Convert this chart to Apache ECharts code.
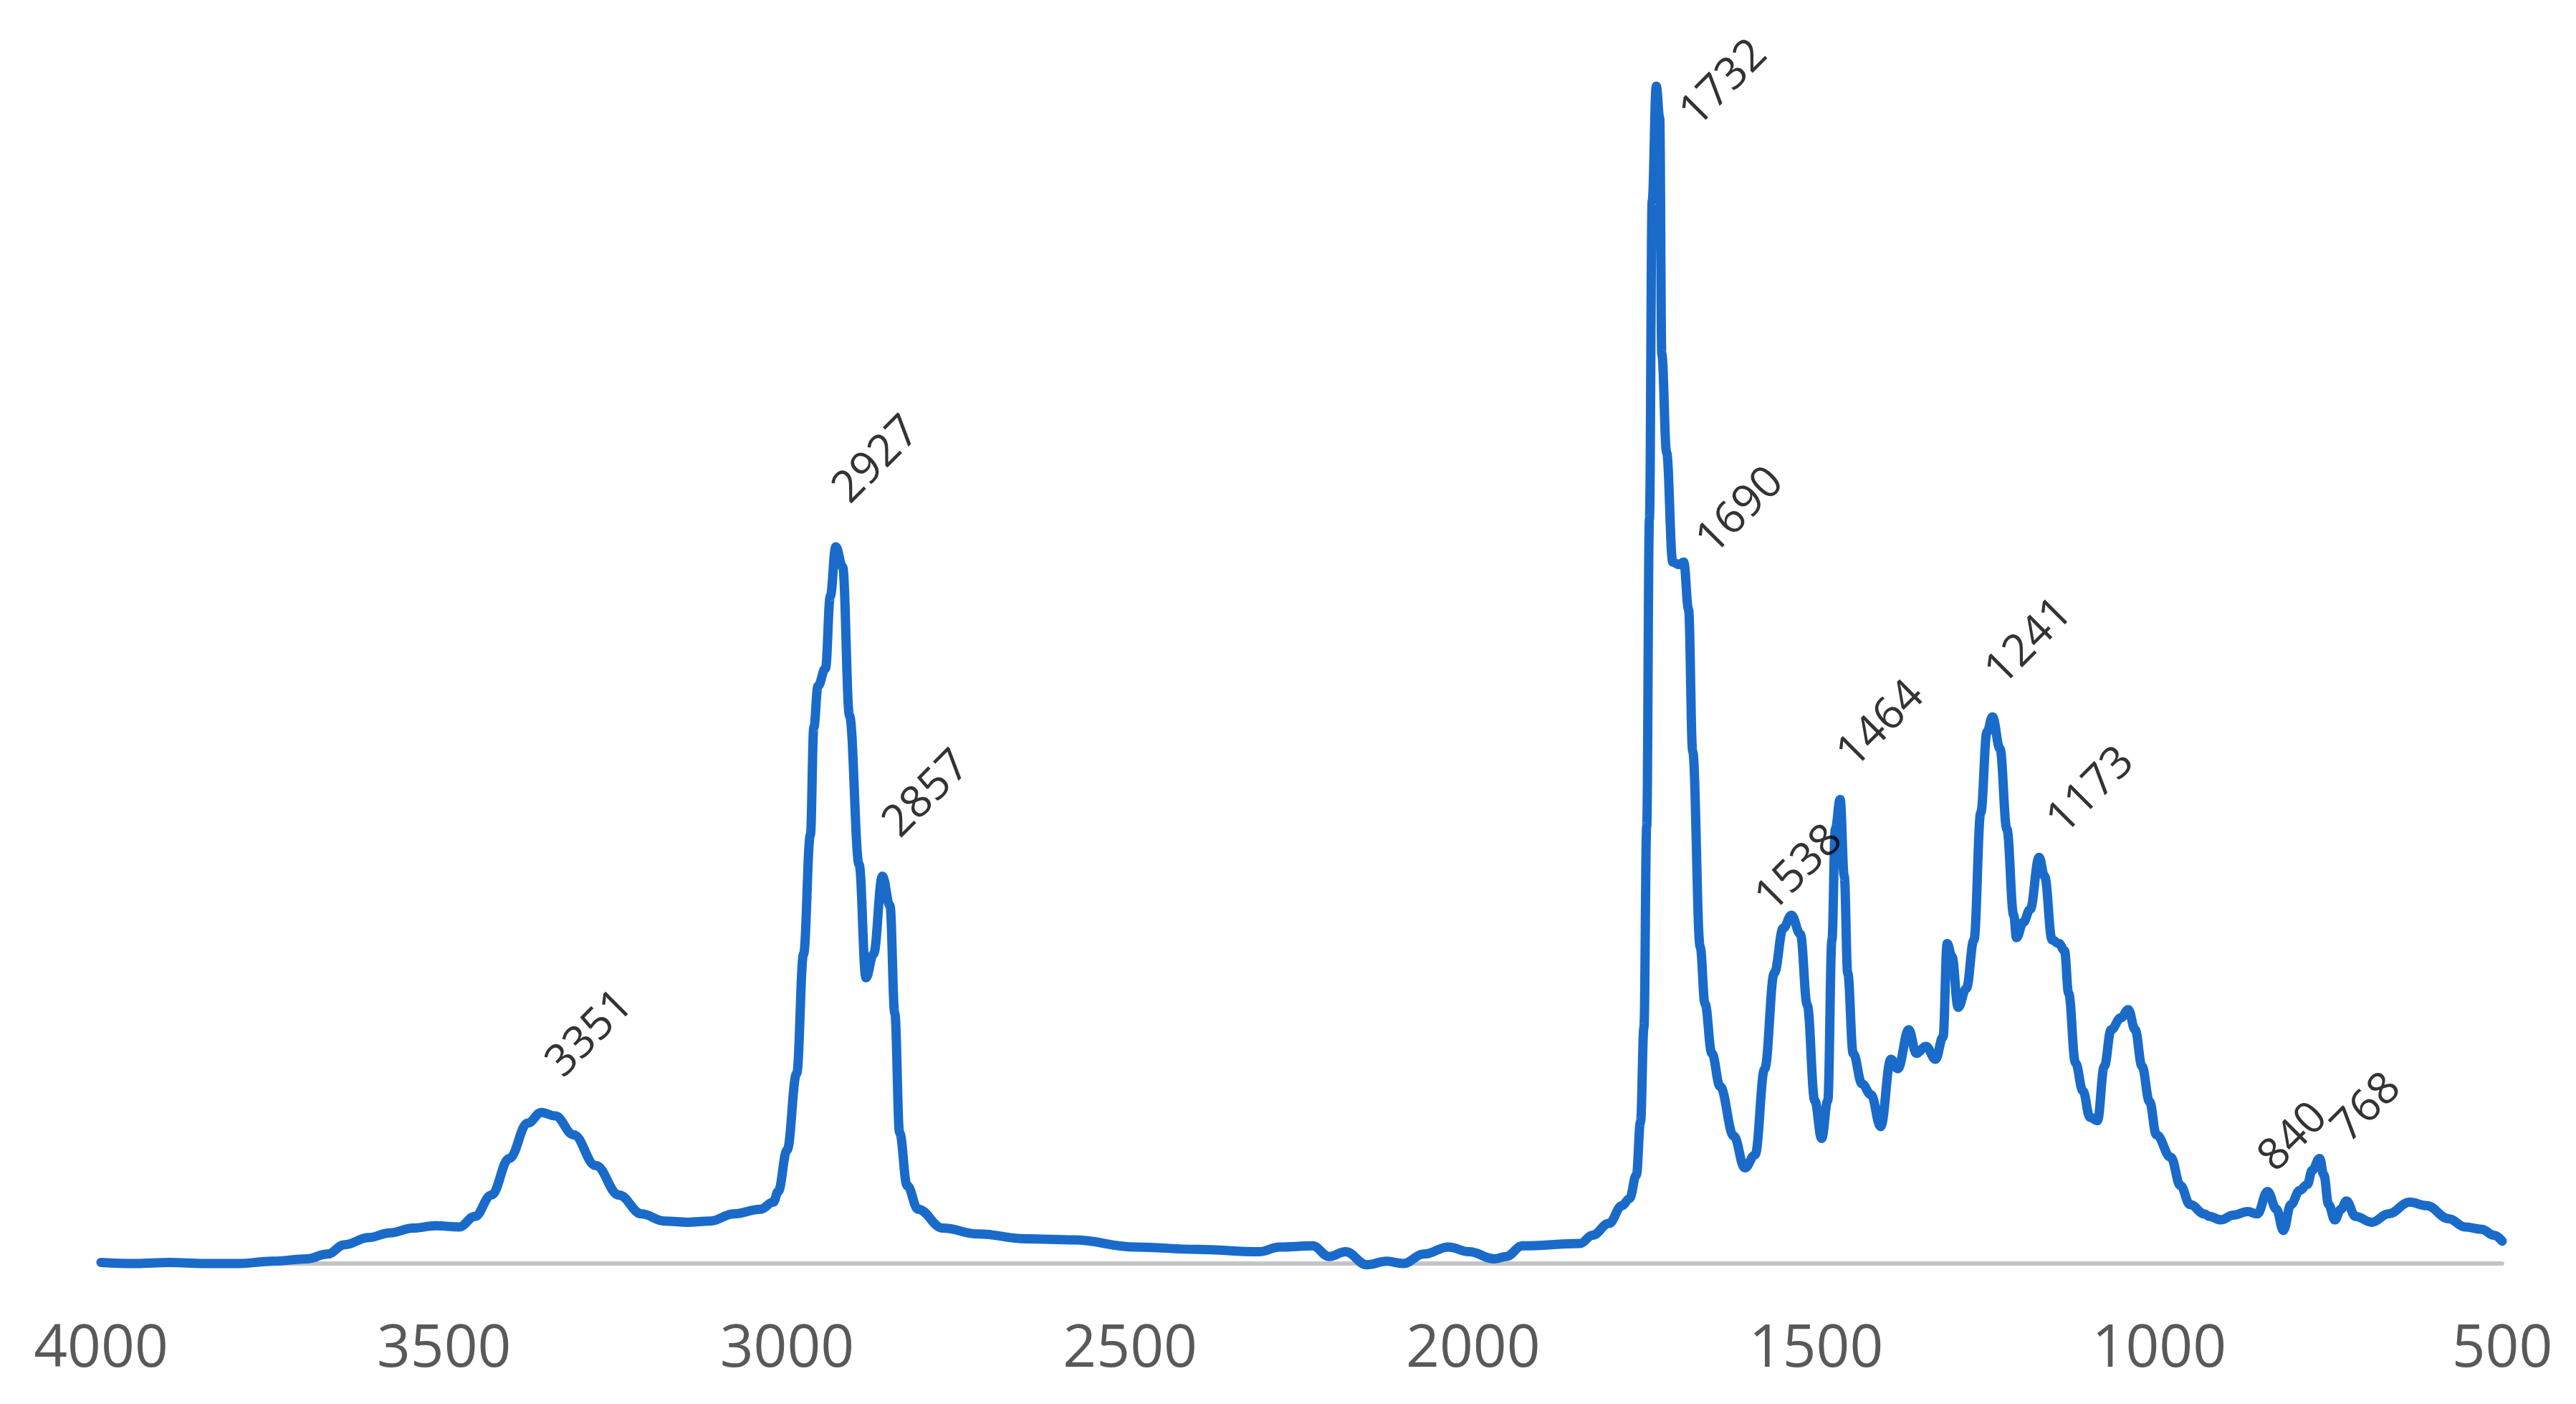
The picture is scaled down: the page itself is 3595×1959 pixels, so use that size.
<!DOCTYPE html>
<html>
<head>
<meta charset="utf-8">
<script src="https://cdn.jsdelivr.net/npm/echarts@6/dist/echarts.min.js"></script>
<style>
html,body{margin:0;padding:0;background:#fff;}
#chart{width:3595px;height:1959px;}
</style>
</head>
<body>
<div id="chart"></div>
<script>
// Wavenumber (cm-1) and absorbance (relative)
const wavenumbers = [4000,3950,3900,3850,3800,3750,3700,3670,3645,3610,3579,3545,3512,3478,3455,3431,3405,3378,3358,3338,3311,3279,3245,3212,3179,3145,3112,3078,3039,3020,3013,3000,2986,2976,2966,2961,2955,2944,2937,2929,2919,2909,2895,2885,2874,2861,2850,2843,2836,2825,2809,2773,2721,2652,2582,2492,2402,2312,2282,2234,2210,2186,2155,2126,2102,2072,2036,2006,1969,1952,1928,1844,1826,1802,1783,1772,1762,1756,1751,1747,1743,1739,1733,1728,1725,1718,1709,1700,1693,1686,1680,1669,1662,1652,1640,1620,1604,1589,1575,1561,1548,1536,1523,1513,1502,1492,1483,1477,1472,1465,1459,1454,1446,1433,1420,1406,1391,1381,1365,1354,1340,1326,1315,1309,1302,1293,1281,1270,1260,1251,1243,1232,1222,1212,1208,1198,1188,1175,1167,1156,1146,1138,1132,1122,1111,1101,1090,1080,1070,1056,1045,1035,1025,1014,1004,983,969,955,934,927,910,892,871,857,842,829,819,808,795,784,777,766,760,753,744,735,727,714,690,666,635,610,578,554,530,512,500];
const absorbance = [0.001,0.000,0.001,0.000,0.000,0.002,0.004,0.008,0.016,0.022,0.026,0.030,0.032,0.031,0.040,0.058,0.089,0.119,0.128,0.125,0.109,0.083,0.058,0.042,0.036,0.035,0.036,0.042,0.046,0.052,0.061,0.096,0.161,0.262,0.363,0.454,0.489,0.504,0.565,0.607,0.590,0.464,0.338,0.242,0.262,0.328,0.303,0.212,0.111,0.066,0.046,0.030,0.025,0.021,0.020,0.014,0.012,0.010,0.014,0.015,0.006,0.010,-0.001,0.002,0.000,0.008,0.014,0.010,0.004,0.006,0.015,0.017,0.024,0.034,0.049,0.055,0.075,0.120,0.200,0.370,0.630,0.900,0.997,0.970,0.770,0.687,0.594,0.592,0.594,0.554,0.434,0.268,0.220,0.178,0.150,0.108,0.081,0.092,0.165,0.246,0.284,0.295,0.279,0.219,0.138,0.106,0.138,0.274,0.368,0.393,0.328,0.246,0.178,0.152,0.143,0.116,0.173,0.165,0.198,0.178,0.184,0.173,0.192,0.271,0.260,0.217,0.233,0.274,0.382,0.450,0.463,0.436,0.368,0.295,0.276,0.289,0.300,0.344,0.328,0.274,0.271,0.265,0.229,0.170,0.146,0.124,0.121,0.167,0.198,0.208,0.215,0.198,0.167,0.137,0.109,0.090,0.066,0.050,0.042,0.040,0.037,0.041,0.044,0.042,0.061,0.046,0.028,0.050,0.062,0.067,0.079,0.089,0.075,0.050,0.037,0.046,0.053,0.040,0.035,0.042,0.052,0.049,0.038,0.031,0.029,0.024,0.019];

// Peak annotations: text and where each text starts (wavenumber, absorbance)
const peakLabels = ['3351','2927','2857','1732','1690','1538','1464','1241','1173','840','768'];
const peakLabelX = [3352,2934,2861,1699,1675,1589,1470,1254,1164,856,749];
const peakLabelY = [0.160,0.646,0.363,0.965,0.603,0.300,0.422,0.492,0.366,0.080,0.105];

// X axis ticks
const xMin = 500, xMax = 4000, xStep = 500;

const lineData = wavenumbers.map((w, i) => [w, absorbance[i]]);
const labelData = peakLabels.map((t, i) => ({ value: [peakLabelX[i], peakLabelY[i]], name: t }));

const chart = echarts.init(document.getElementById('chart'));
chart.setOption({
  animation: false,
  backgroundColor: '#ffffff',
  grid: { left: 141, right: 103, top: 33, bottom: 163 },
  xAxis: {
    type: 'value',
    inverse: true,
    min: xMin, max: xMax, interval: xStep,
    axisLine: { show: true, onZero: true, lineStyle: { color: '#c4c4c4', width: 6 } },
    axisTick: { show: false },
    splitLine: { show: false },
    axisLabel: {
      color: '#595959', fontSize: 82, fontFamily: 'Open Sans', margin: 47,
      formatter: v => String(v)
    }
  },
  yAxis: {
    type: 'value', min: -0.02, max: 1.05,
    show: false,
    splitLine: { show: false }
  },
  series: [
    {
      type: 'line',
      data: lineData,
      showSymbol: false,
      symbol: 'none',
      smooth: 0.4,
      smoothMonotone: 'x',
      lineStyle: { color: '#1a6bc9', width: 13, join: 'round', cap: 'round' },
      silent: true,
      z: 3
    },
    {
      type: 'scatter',
      data: labelData,
      symbolSize: 0,
      silent: true,
      z: 4,
      label: {
        show: true,
        formatter: p => p.name,
        position: [0, 0],
        offset: [13, 35],
        align: 'left',
        verticalAlign: 'bottom',
        rotate: 45,
        color: '#000000',
        fontSize: 62,
        fontFamily: 'Open Sans'
      }
    }
  ]
});
</script>
</body>
</html>
